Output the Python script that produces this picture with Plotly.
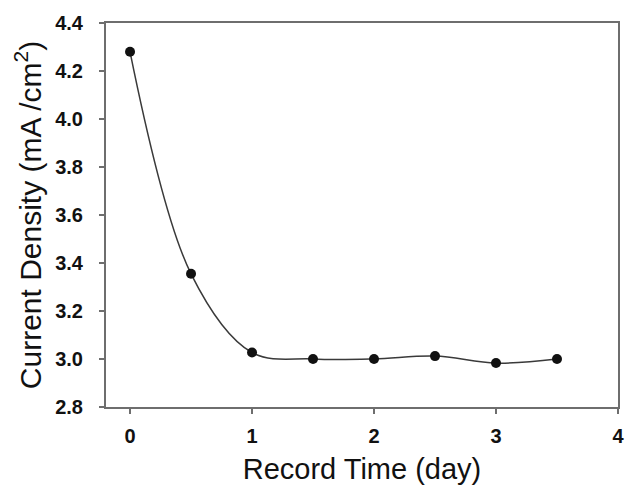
import plotly.graph_objects as go

# Current density recorded over time
record_time_day = [0, 0.5, 1, 1.5, 2, 2.5, 3, 3.5]
current_density = [4.28, 3.355, 3.027, 3.0, 3.0, 3.012, 2.983, 3.0]

x_tick_vals = [0, 1, 2, 3, 4]
y_tick_vals = [2.8, 3.0, 3.2, 3.4, 3.6, 3.8, 4.0, 4.2, 4.4]

axis_color = "#6e6e6e"
font_family = "Liberation Sans, Arial, sans-serif"

fig = go.Figure()
fig.add_trace(go.Scatter(
    x=record_time_day,
    y=current_density,
    mode="lines+markers",
    line=dict(shape="spline", smoothing=1.0, color="#3a3a3a", width=1.5),
    marker=dict(symbol="circle", size=10, color="#111111"),
    showlegend=False,
))

fig.update_layout(
    width=644,
    height=494,
    margin=dict(l=106, r=26, t=21, b=87),
    paper_bgcolor="white",
    plot_bgcolor="white",
    font=dict(family=font_family, color="#111111"),
)

fig.update_xaxes(
    range=[-0.197, 4],
    tickvals=x_tick_vals,
    ticktext=[str(v) for v in x_tick_vals],
    ticks="outside",
    ticklen=5,
    tickwidth=2,
    tickcolor=axis_color,
    showline=True,
    linecolor=axis_color,
    linewidth=2,
    mirror=True,
    showgrid=False,
    zeroline=False,
    tickfont=dict(size=20, family=font_family, weight="bold", color="#111111"),
    ticklabelstandoff=5,
    title=dict(text="Record Time (day)", font=dict(size=29, family=font_family, color="#111111"), standoff=13),
)

fig.update_yaxes(
    range=[2.8, 4.4],
    tickvals=y_tick_vals,
    ticktext=[f"{v:.1f}" for v in y_tick_vals],
    ticks="outside",
    ticklen=5,
    tickwidth=2,
    tickcolor=axis_color,
    showline=True,
    linecolor=axis_color,
    linewidth=2,
    mirror=True,
    showgrid=False,
    zeroline=False,
    tickfont=dict(size=20, family=font_family, weight="bold", color="#111111"),
    ticklabelstandoff=12,
    title=dict(text="Current Density (mA /cm<sup>2</sup>)", font=dict(size=30, family=font_family, color="#111111"), standoff=5),
)

fig.write_html("out.html")
